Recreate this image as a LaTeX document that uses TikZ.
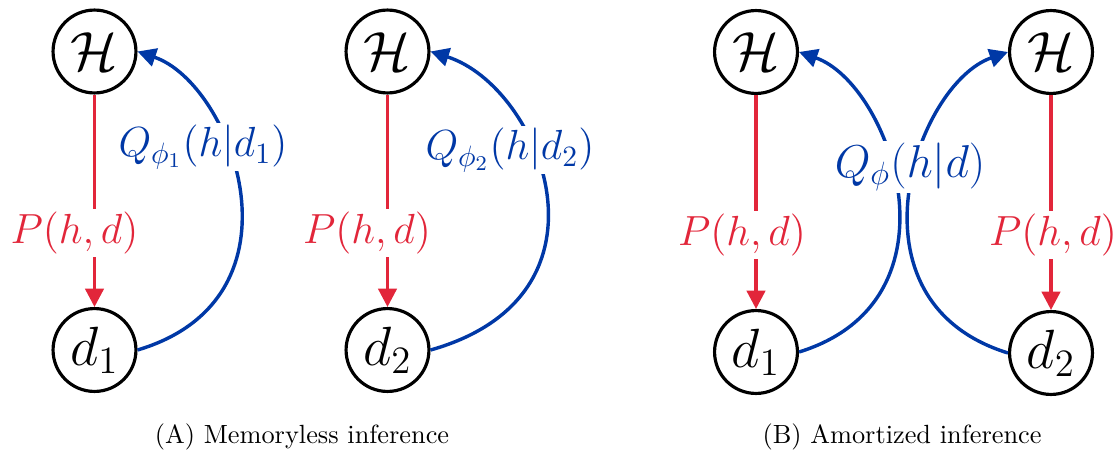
\RequirePackage{fix-cm}
\documentclass[tikz,border=0pt]{standalone}
\usetikzlibrary{arrows.meta}
\definecolor{pred}{RGB}{226,38,58}
\definecolor{qblue}{RGB}{0,56,166}
\tikzset{
  var/.style={circle,draw=black,line width=1.2pt,minimum size=31.5pt,inner sep=0pt,
              font=\fontsize{21}{25}\selectfont},
  genline/.style={draw=pred,line width=1.3pt,-{Triangle[length=7pt,width=7pt]}},
  infline/.style={draw=qblue,line width=1.3pt,-{Triangle[length=7pt,width=7pt]}},
  plabel/.style={text=pred,fill=white,inner sep=1pt,font=\fontsize{16}{19}\selectfont},
  qlabel/.style={text=qblue,fill=white,inner sep=1pt,font=\fontsize{16}{19}\selectfont},
  qlabelbig/.style={text=qblue,fill=white,inner sep=1pt,font=\fontsize{17.5}{21}\selectfont},
  captext/.style={font=\fontsize{10}{12}\selectfont}
}
\begin{document}
\begin{tikzpicture}[x=0.38pt,y=-0.38pt]
\useasboundingbox (0,0) rectangle (1115,459);
% panel A, first
\node[var] (Ha) at (94.5,51.5) {$\mathcal{H}$};
\node[var] (da) at (94.5,350) {$d_1$};
\draw[genline] (Ha) -- (da);
\node[plabel] (pa) at (74.5,233) {$P(h,d)$};
\draw[infline] (da.east) .. controls +(175,-52) and +(95,32) .. (Ha.east);
\node[qlabel] (qa) at (203,147) {$Q_{\phi_1}(h|d_1)$};
% panel A, second
\node[var] (Hb) at (387.5,51.5) {$\mathcal{H}$};
\node[var] (db) at (387.5,350) {$d_2$};
\draw[genline] (Hb) -- (db);
\node[plabel] (pb) at (367,233) {$P(h,d)$};
\draw[infline] (db.east) .. controls +(195,-55) and +(110,35) .. (Hb.east);
\node[qlabel] (qb) at (510,150) {$Q_{\phi_2}(h|d_2)$};
% panel B
\node[var] (Hc) at (756,52) {$\mathcal{H}$};
\node[var] (dc) at (756,352) {$d_1$};
\node[var] (Hd) at (1051,52) {$\mathcal{H}$};
\node[var] (dd) at (1051,353) {$d_2$};
\draw[genline] (Hc) -- (dc);
\draw[genline] (Hd) -- (dd);
\node[plabel] (pc) at (742,235) {$P(h,d)$};
\node[plabel] (pd) at (1053,235) {$P(h,d)$};
\draw[infline] (dc.east) .. controls +(168,-52) and +(92,32) .. (Hc.east);
\draw[infline] (dd.west) .. controls +(-168,-52) and +(-92,32) .. (Hd.west);
\node[qlabelbig] (qc) at (910,167) {$Q_{\phi}(h|d)$};
% captions
\node[captext] (capa) at (302,437) {(A) Memoryless inference};
\node[captext] (capb) at (902,437) {(B) Amortized inference};
\end{tikzpicture}
\end{document}
